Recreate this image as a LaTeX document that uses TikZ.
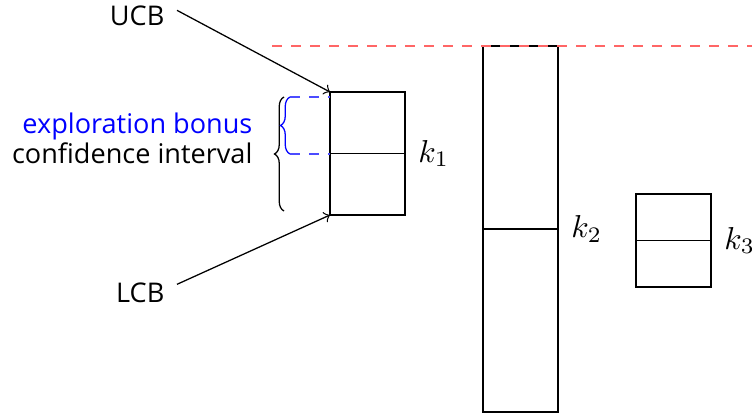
\documentclass[tikz,border=0pt]{standalone}
\usepackage{fontspec}
\setmainfont{Open Sans}
\usepackage{tikz}
\usetikzlibrary{positioning,decorations.pathreplacing}
\newlength\pxu
\setlength\pxu{0.3155pt}
\tikzset{
  arm/.style={draw, semithick, minimum width=75\pxu, minimum height=#1, inner sep=0pt, outer sep=0pt},
  armlabel/.style={anchor=west, inner sep=0pt, xshift=4pt},
  bound/.style={->, thin},
  txt/.style={font=\fontsize{8.55}{10}\selectfont, inner sep=0pt},
  bonusline/.style={blue!70, dashed, thin},
  bestline/.style={red!60, dashed, semithick}
}

\begin{document}
\begin{tikzpicture}[x=\pxu, y=-\pxu]
  \useasboundingbox (0,0) rectangle (752,414);

  % arms, the middle line is the empirical mean
  \node[arm=123\pxu, anchor=north west] (k1) at (330,92) {};
  \node[arm=366\pxu, anchor=north west] (k2) at (483,46) {};
  \node[arm=93\pxu, anchor=north west] (k3) at (636,194) {};
  \draw[semithick] (k1.west) -- (k1.east);
  \draw[semithick] (k2.west) -- (k2.east);
  \draw[semithick] (k3.west) -- (k3.east);

  \node[armlabel] (l1) at (k1.east) {$k_1$};
  \node[armlabel] (l2) at (k2.east) {$k_2$};
  \node[armlabel] (l3) at (k3.east) {$k_3$};

  % best upper bound
  \coordinate (bestL) at (272,46);
  \coordinate (bestR) at (752,46);
  \draw[bestline] (bestL) -- (bestR);

  % bounds of k1
  \node[txt, anchor=base east] (ucb) at (165,26) {UCB};
  \node[txt, anchor=base east] (lcb) at (165,302) {LCB};
  \draw[bound] (ucb.east) ++(12,-6) coordinate (ucbA) -- (k1.north west);
  \draw[bound] (lcb.east) ++(12,-8) coordinate (lcbA) -- (k1.south west);

  % braces
  \coordinate (ciT) at (284,97);
  \coordinate (ciB) at (284,211);
  \draw[decorate, decoration={brace, amplitude=3pt}] (ciB) -- (ciT);
  \coordinate (ebT) at (290,97);
  \coordinate (ebB) at (290,154);
  \draw[blue, decorate, decoration={brace, amplitude=3pt}] (ebB) -- (ebT);
  \draw[bonusline] (ebT) -- (ebT -| k1.west);
  \draw[bonusline] (ebB) -- (ebB -| k1.west);

  \node[txt, blue, anchor=base east] (eb) at (253,133) {exploration bonus};
  \node[txt, anchor=base east] (ci) at (253,163) {confidence interval};
\end{tikzpicture}
\end{document}
